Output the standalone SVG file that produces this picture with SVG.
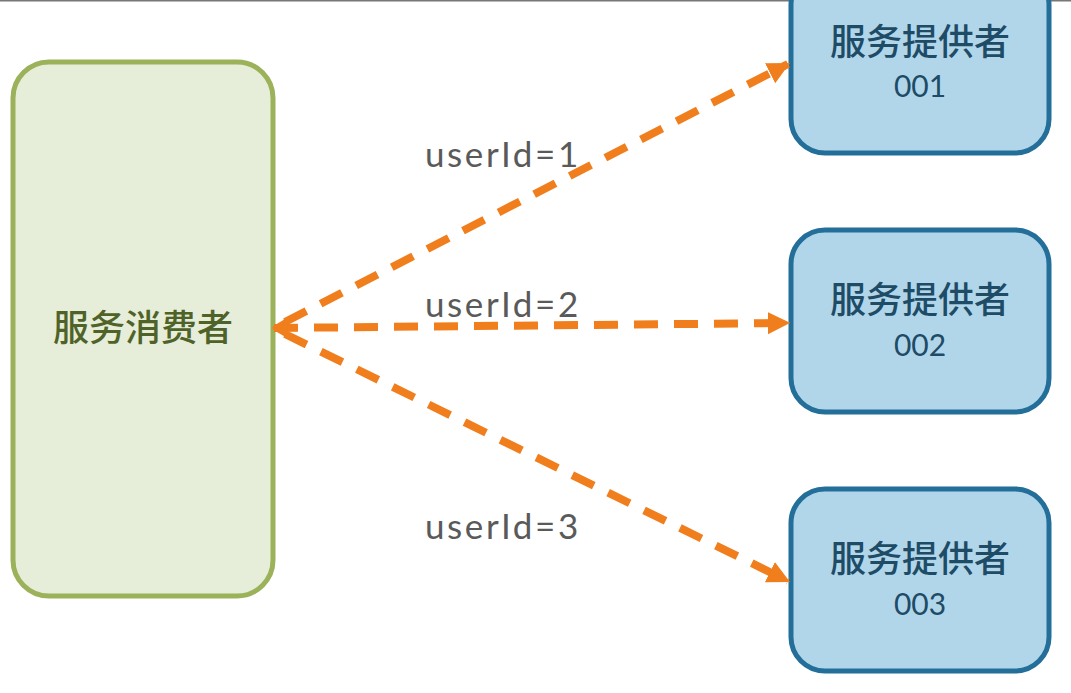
<svg xmlns="http://www.w3.org/2000/svg" width="1071" height="693" viewBox="0 0 1071 693">
<defs>
<marker id="tri" viewBox="0 0 10 10" refX="9" refY="5" markerWidth="2.8" markerHeight="3" orient="auto" markerUnits="strokeWidth">
<path d="M0,0 L10,5 L0,10 Z" fill="#F07E1C"/>
</marker>
<marker id="open" viewBox="0 0 12 12" refX="1" refY="6" markerWidth="3.2" markerHeight="3.2" orient="auto" markerUnits="strokeWidth">
<path d="M10,1 L1.5,6 L10,11" fill="none" stroke="#F07E1C" stroke-width="2.4" stroke-linecap="round" stroke-linejoin="round"/>
</marker>
<style>
.prov rect{fill:#B1D6EA;stroke:#236F9A;stroke-width:5}
.prov text{fill:#1E4B66;font-family:"Lato","Noto Sans CJK SC",sans-serif;text-anchor:middle}
.conn line{stroke:#F07E1C;stroke-width:8;stroke-dasharray:24 16;fill:none}
.lbl{fill:#5A5A5A;font-family:"Lato","Noto Sans",sans-serif;font-size:35px;letter-spacing:2.6px}
</style>
</defs>
<rect x="0" y="0" width="1071" height="693" fill="#FFFFFF"/>
<line x1="0" y1="0.8" x2="1071" y2="0.8" stroke="#777777" stroke-width="1.6"/>
<g id="consumer">
<rect x="13" y="62" width="260" height="534" rx="36" ry="36" fill="#E6EDD9" stroke="#9BB25A" stroke-width="5"/>
<text x="143" y="341" font-family="Lato,'Noto Sans CJK SC',sans-serif" font-size="36" font-weight="500" fill="#4F6228" text-anchor="middle">服务消费者</text>
</g>
<g id="provider1" class="prov">
<rect x="791" y="-29" width="258" height="182" rx="34" ry="34"/>
<text x="920" y="55" font-size="36" font-weight="500">服务提供者</text>
<text x="920" y="97" font-size="30">001</text>
</g>
<g id="provider2" class="prov">
<rect x="791" y="230" width="258" height="182" rx="34" ry="34"/>
<text x="920" y="313" font-size="36" font-weight="500">服务提供者</text>
<text x="920" y="356" font-size="30">002</text>
</g>
<g id="provider3" class="prov">
<rect x="791" y="489" width="258" height="182" rx="34" ry="34"/>
<text x="920" y="572" font-size="36" font-weight="500">服务提供者</text>
<text x="920" y="615" font-size="30">003</text>
</g>
<g id="connectors" class="conn">
<line x1="285" y1="322" x2="788" y2="64" marker-end="url(#tri)"/>
<line x1="274" y1="328" x2="788" y2="323" marker-start="url(#open)" marker-end="url(#tri)"/>
<line x1="285" y1="334" x2="788" y2="581" marker-end="url(#tri)"/>
</g>
<g id="labels">
<text class="lbl" x="425" y="167">userId=1</text>
<text class="lbl" x="425" y="317">userId=2</text>
<text class="lbl" x="425" y="539">userId=3</text>
</g>
</svg>
